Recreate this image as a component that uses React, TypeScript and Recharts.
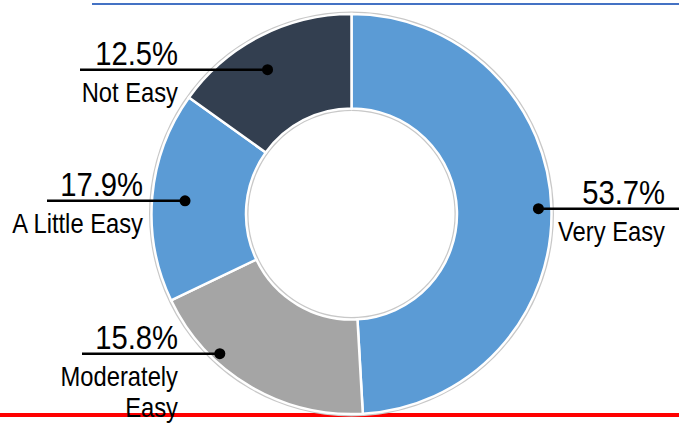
import { Pie, PieChart } from "recharts";

// slice sizes as drawn (the printed labels below are the source's own text)
const categories = ["Very Easy", "Moderately Easy", "A Little Easy", "Not Easy"];
const sliceShares = [49.1, 18.8, 17.0, 15.1];
const shareLabels = ["53.7%", "15.8%", "17.9%", "12.5%"];
const nameLines = [["Very Easy"], ["Moderately", "Easy"], ["A Little Easy"], ["Not Easy"]];
const sliceColors = ["#5B9BD5", "#A5A5A5", "#5B9BD5", "#333F50"];

const data = categories.map((name, i) => ({
  name,
  value: sliceShares[i],
  fill: sliceColors[i]
}));
const ringData = [{ name: "ring", value: 1 }];

const W = 679;
const H = 426;
const CX = 351.5;
const CY = 214;
const RAD = Math.PI / 180;
const FONT = "'Liberation Sans', Arial, sans-serif";

// callout placement per slice: dot angle tweak / radius, line ends, text column
const callouts = [
  { dAngle: 0, r: 187, lineFrom: 0, lineTo: 679, textX: 665 },
  { dAngle: -12.7, r: 192, lineFrom: 82, lineTo: 0, textX: 178 },
  { dAngle: 0.5, r: 167, lineFrom: 47, lineTo: 0, textX: 143 },
  { dAngle: 3, r: 167, lineFrom: 80, lineTo: 0, textX: 178 }
];

type LabelProps = {
  cx: number;
  cy: number;
  midAngle: number;
  index: number;
};

// narrow look: squeeze a regular sans horizontally
function NarrowText({ x, y, size, sx, children }: { x: number; y: number; size: number; sx: number; children: string }) {
  return (
    <text
      transform={`translate(${x} ${y}) scale(${sx} 1)`}
      textAnchor="end"
      fontFamily={FONT}
      fontSize={size}
      fill="#000"
    >
      {children}
    </text>
  );
}

function Callout({ cx, cy, midAngle, index }: LabelProps) {
  const c = callouts[index];
  const a = (midAngle + c.dAngle) * RAD;
  const x = cx + c.r * Math.cos(a);
  const y = cy - c.r * Math.sin(a);
  const x1 = c.lineFrom || x;
  const x2 = c.lineTo || x;
  return (
    <g>
      <line x1={x1} y1={y} x2={x2} y2={y} stroke="#000" strokeWidth={2.5} />
      <circle cx={x} cy={y} r={5.5} fill="#000" />
      <NarrowText x={c.textX} y={y - 5} size={34} sx={0.86}>
        {shareLabels[index]}
      </NarrowText>
      {nameLines[index].map((t, k) => (
        <NarrowText key={t} x={c.textX} y={y + 32 + k * 31} size={27} sx={0.88}>
          {t}
        </NarrowText>
      ))}
    </g>
  );
}

export default function App() {
  return (
    <div style={{ position: "fixed", left: 0, top: 0, width: W, height: H, background: "#fff", overflow: "hidden" }}>
      <div style={{ position: "absolute", left: 92, top: 3, width: W - 92, height: 2, background: "#4472C4" }} />
      <div style={{ position: "absolute", left: 0, top: 413, width: W, height: 4, background: "#FF0000" }} />
      <div style={{ position: "absolute", left: 0, top: 0 }}>
        <PieChart width={W} height={H} margin={{ top: 0, right: 0, bottom: 0, left: 0 }}>
          <Pie
            data={ringData}
            dataKey="value"
            cx={CX}
            cy={CY}
            innerRadius={103}
            outerRadius={202.5}
            startAngle={90}
            endAngle={-270}
            fill="#C8C8C8"
            stroke="none"
            isAnimationActive={false}
          />
          <Pie
            data={data}
            dataKey="value"
            cx={CX}
            cy={CY}
            innerRadius={105.5}
            outerRadius={200}
            startAngle={90}
            endAngle={-270}
            stroke="#fff"
            strokeWidth={2.5}
            labelLine={false}
            label={(p: LabelProps) => <Callout {...p} />}
            isAnimationActive={false}
          />
        </PieChart>
      </div>
    </div>
  );
}
